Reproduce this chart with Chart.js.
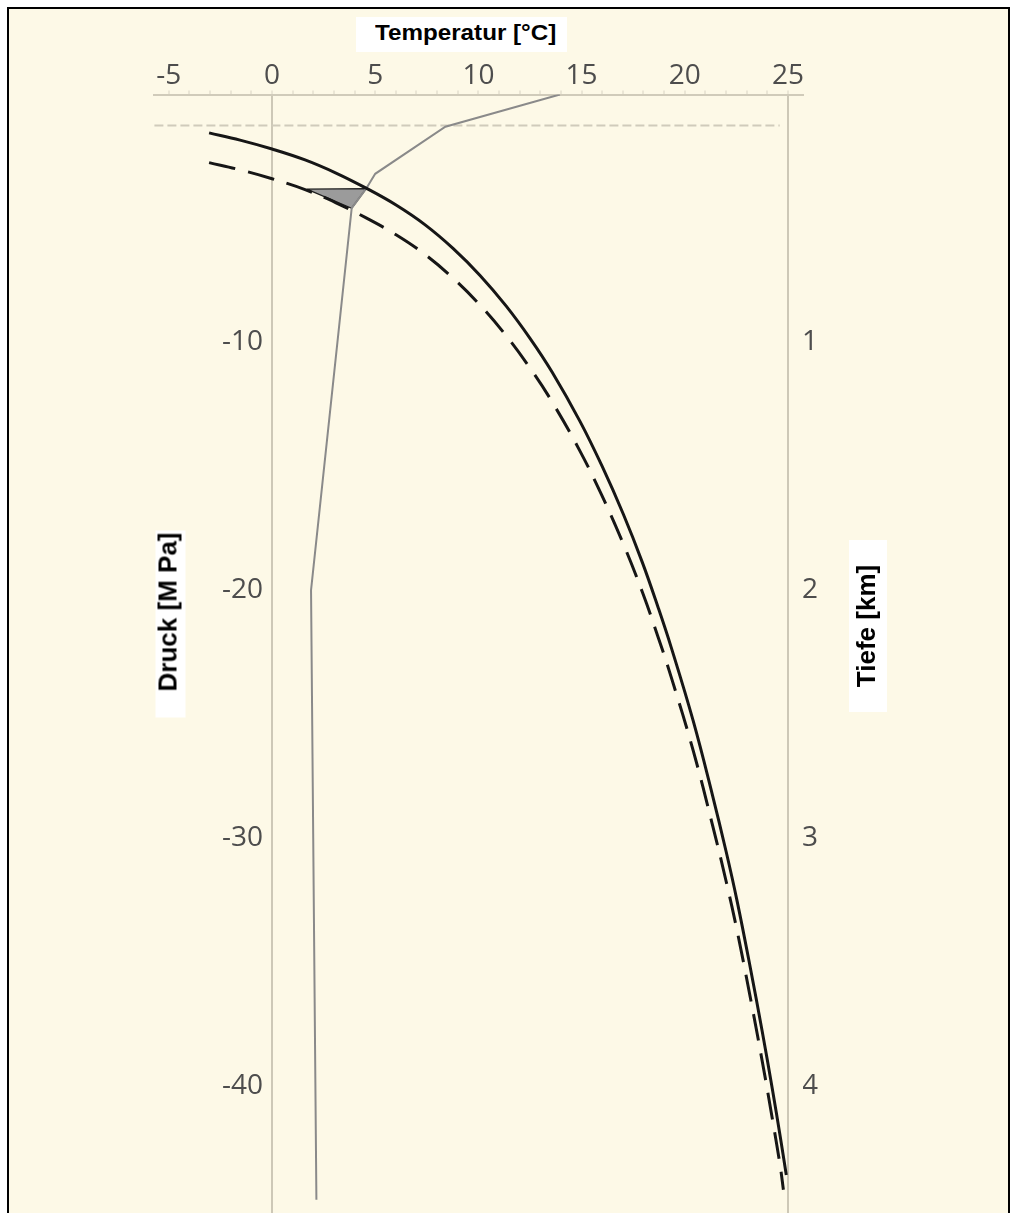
<!DOCTYPE html>
<html lang="de">
<head>
<meta charset="utf-8">
<title>Temperatur / Druck</title>
<script src="https://cdn.jsdelivr.net/npm/chart.js@4.4.1/dist/chart.umd.min.js"></script>
<style>
    html, body { margin: 0; padding: 0; background: #fff; width: 1018px; height: 1213px; overflow: hidden; }
    #rahmen { position: absolute; left: 7px; top: 7px; width: 1003px; height: 1240px; box-sizing: border-box; border: 2px solid #000; background: #fdf9e7; }
    #plot { position: absolute; left: 0; top: 0; width: 1018px; height: 1213px; }
    .titel { position: absolute; background: #fff; color: #000; white-space: nowrap; box-sizing: border-box;
             font-family: "Liberation Sans", Arial, sans-serif; font-weight: bold; }
    #tTemp { left: 356px; top: 17px; width: 211px; height: 35px; font-size: 22px; line-height: 31px; padding-left: 19px; }
    #tTemp span { display: inline-block; transform: scaleX(1.1); transform-origin: left center; }
    #tDruck { left: 76.5px; top: 608.5px; width: 187px; height: 30px; font-size: 26px; line-height: 24px;
              text-align: right; padding-right: 2px; transform: rotate(-90deg); }
    #tTiefe { left: 782px; top: 607px; width: 172px; height: 38px; font-size: 26px; line-height: 34px;
              text-align: center; transform: rotate(-90deg); }
</style>
</head>
<body>
<div id="rahmen"></div>
<div id="plot"><canvas id="chart"></canvas></div>
<div class="titel" id="tTemp"><span>Temperatur [°C]</span></div>
<div class="titel" id="tDruck">Druck [M Pa]</div>
<div class="titel" id="tTiefe">Tiefe [km]</div>

<script>
'use strict';

// Achsen
const tempTicks = [-5, 0, 5, 10, 15, 20, 25];
const druckTicks = [-10, -20, -30, -40];
const tiefeTicks = [1, 2, 3, 4];

// Stabilitaetsgrenze (durchgezogen), Temperatur [°C] / Druck [MPa]
const kurveT = [-3.05, -1.55, 0, 1.6, 3.1, 4.56, 6.01, 7.42, 8.77, 10.08, 11.34, 12.51, 13.57, 14.93,
                16.0, 17.02, 17.94, 18.71, 19.34, 20.41, 21.33, 22.01, 22.54, 23.17, 23.75, 24.24, 24.63, 24.92];
const kurveP = [-1.55, -1.84, -2.2, -2.64, -3.17, -3.78, -4.46, -5.26, -6.21, -7.3, -8.53, -9.85, -11.2, -13.2,
                -15.01, -16.93, -18.87, -20.7, -22.3, -25.28, -28.23, -30.57, -32.56, -35.21, -37.79, -40.11, -42.07, -43.6];

// Stabilitaetsgrenze (gestrichelt)
const kurve2T = [-3.05, -1.55, 0, 1.6, 3.1, 4.56, 6.01, 7.42, 8.77, 10.08, 11.34, 12.51, 13.57, 14.93,
                 16.0, 17.02, 17.94, 18.71, 19.34, 20.41, 21.33, 22.01, 22.54, 23.17, 23.75, 24.24, 24.63, 24.78];
const kurve2P = [-2.75, -3.04, -3.4, -3.84, -4.37, -4.98, -5.66, -6.46, -7.41, -8.5, -9.73, -11.05, -12.4, -14.4,
                 -16.21, -18.13, -20.07, -21.9, -23.5, -26.48, -29.43, -31.77, -33.76, -36.41, -38.99, -41.31, -43.27, -44.2];

// Temperaturprofil (grau)
const profilT = [13.95, 8.4, 5.0, 4.56, 3.86, 1.89, 2.15];
const profilP = [0, -1.3, -3.2, -3.8, -4.59, -20.0, -44.6];

// Dreieck
const dreieckT = [1.68, 4.56, 3.86, 1.68];
const dreieckP = [-3.82, -3.8, -4.59, -3.82];

// Meeresboden (gestrichelte Linie)
const bodenT = [-5.7, 24.6];
const bodenP = [-1.25, -1.25];

let punkte = (xs, ys) => {
    let liste = [];
    for (let i = 0; i < xs.length; i++) {
        liste.push({ x: xs[i], y: ys[i] });
    }
    return liste;
};

// Achsen ohne Randabstand fuer die Beschriftung
let ohneRand = (s) => {
    s.paddingTop = 0;
    s.paddingBottom = 0;
    s.paddingLeft = 0;
    s.paddingRight = 0;
};

const schrift = { family: 'Open Sans', size: 28 };
const grauText = '#4d4d4d';

new Chart(document.getElementById('chart'), {
    type: 'scatter',
    data: {
        datasets: [{
            data: punkte(kurveT, kurveP),
            showLine: true,
            borderColor: '#161616',
            borderWidth: 3,
            tension: 0.4,
            pointRadius: 0
        }, {
            data: punkte(kurve2T, kurve2P),
            showLine: true,
            borderColor: '#161616',
            borderWidth: 3,
            borderDash: [27, 13],
            tension: 0.4,
            pointRadius: 0
        }, {
            data: punkte(profilT, profilP),
            showLine: true,
            borderColor: '#8a8a8a',
            borderWidth: 2,
            tension: 0,
            pointRadius: 0
        }, {
            data: punkte(dreieckT, dreieckP),
            showLine: true,
            borderColor: '#1e1e1e',
            borderWidth: 1.3,
            backgroundColor: '#9b9b9b',
            fill: 'shape',
            tension: 0,
            pointRadius: 0
        }, {
            data: punkte(bodenT, bodenP),
            showLine: true,
            borderColor: '#d0cbbb',
            borderWidth: 2,
            borderDash: [9, 4],
            tension: 0,
            pointRadius: 0
        }]
    },
    options: {
        responsive: true,
        maintainAspectRatio: false,
        animation: false,
        events: [],
        layout: { padding: { top: 34.5, left: 154, right: 175, bottom: 0 } },
        plugins: {
            legend: { display: false },
            tooltip: { enabled: false }
        },
        scales: {
            x: {
                type: 'linear',
                position: 'top',
                min: -5.72,
                max: 25.73,
                afterFit: (s) => { s.height = 60; ohneRand(s); },
                ticks: {
                    stepSize: 1,
                    autoSkip: false,
                    maxRotation: 0,
                    includeBounds: false,
                    padding: -2,
                    font: schrift,
                    color: grauText,
                    callback: (v) => tempTicks.includes(v) ? String(v) : ''
                },
                grid: {
                    color: (ctx) => (ctx.tick && (ctx.tick.value === 0 || ctx.tick.value === 25)) ? '#cdc8b7' : 'rgba(0,0,0,0)',
                    lineWidth: 2,
                    drawTicks: true,
                    tickLength: 4,
                    tickWidth: 1,
                    tickColor: '#d8d3c3'
                },
                border: { display: true, color: '#d0cbba', width: 2 }
            },
            y: {
                type: 'linear',
                position: 'left',
                min: -45.137,
                max: 0,
                afterFit: (s) => { s.width = 0; ohneRand(s); },
                ticks: {
                    stepSize: 10,
                    includeBounds: false,
                    mirror: true,
                    padding: 68,
                    font: schrift,
                    color: grauText,
                    callback: (v) => druckTicks.includes(v) ? String(v) : ''
                },
                grid: { display: false, drawTicks: false },
                border: { display: false }
            },
            y2: {
                type: 'linear',
                position: 'right',
                min: 0,
                max: 4.5137,
                reverse: true,
                afterFit: (s) => { s.width = 40; ohneRand(s); },
                ticks: {
                    stepSize: 1,
                    includeBounds: false,
                    padding: -1,
                    font: schrift,
                    color: grauText,
                    callback: (v) => tiefeTicks.includes(v) ? String(v) : ''
                },
                grid: { display: false, drawTicks: false },
                border: { display: false }
            }
        }
    }
});
</script>
</body>
</html>
